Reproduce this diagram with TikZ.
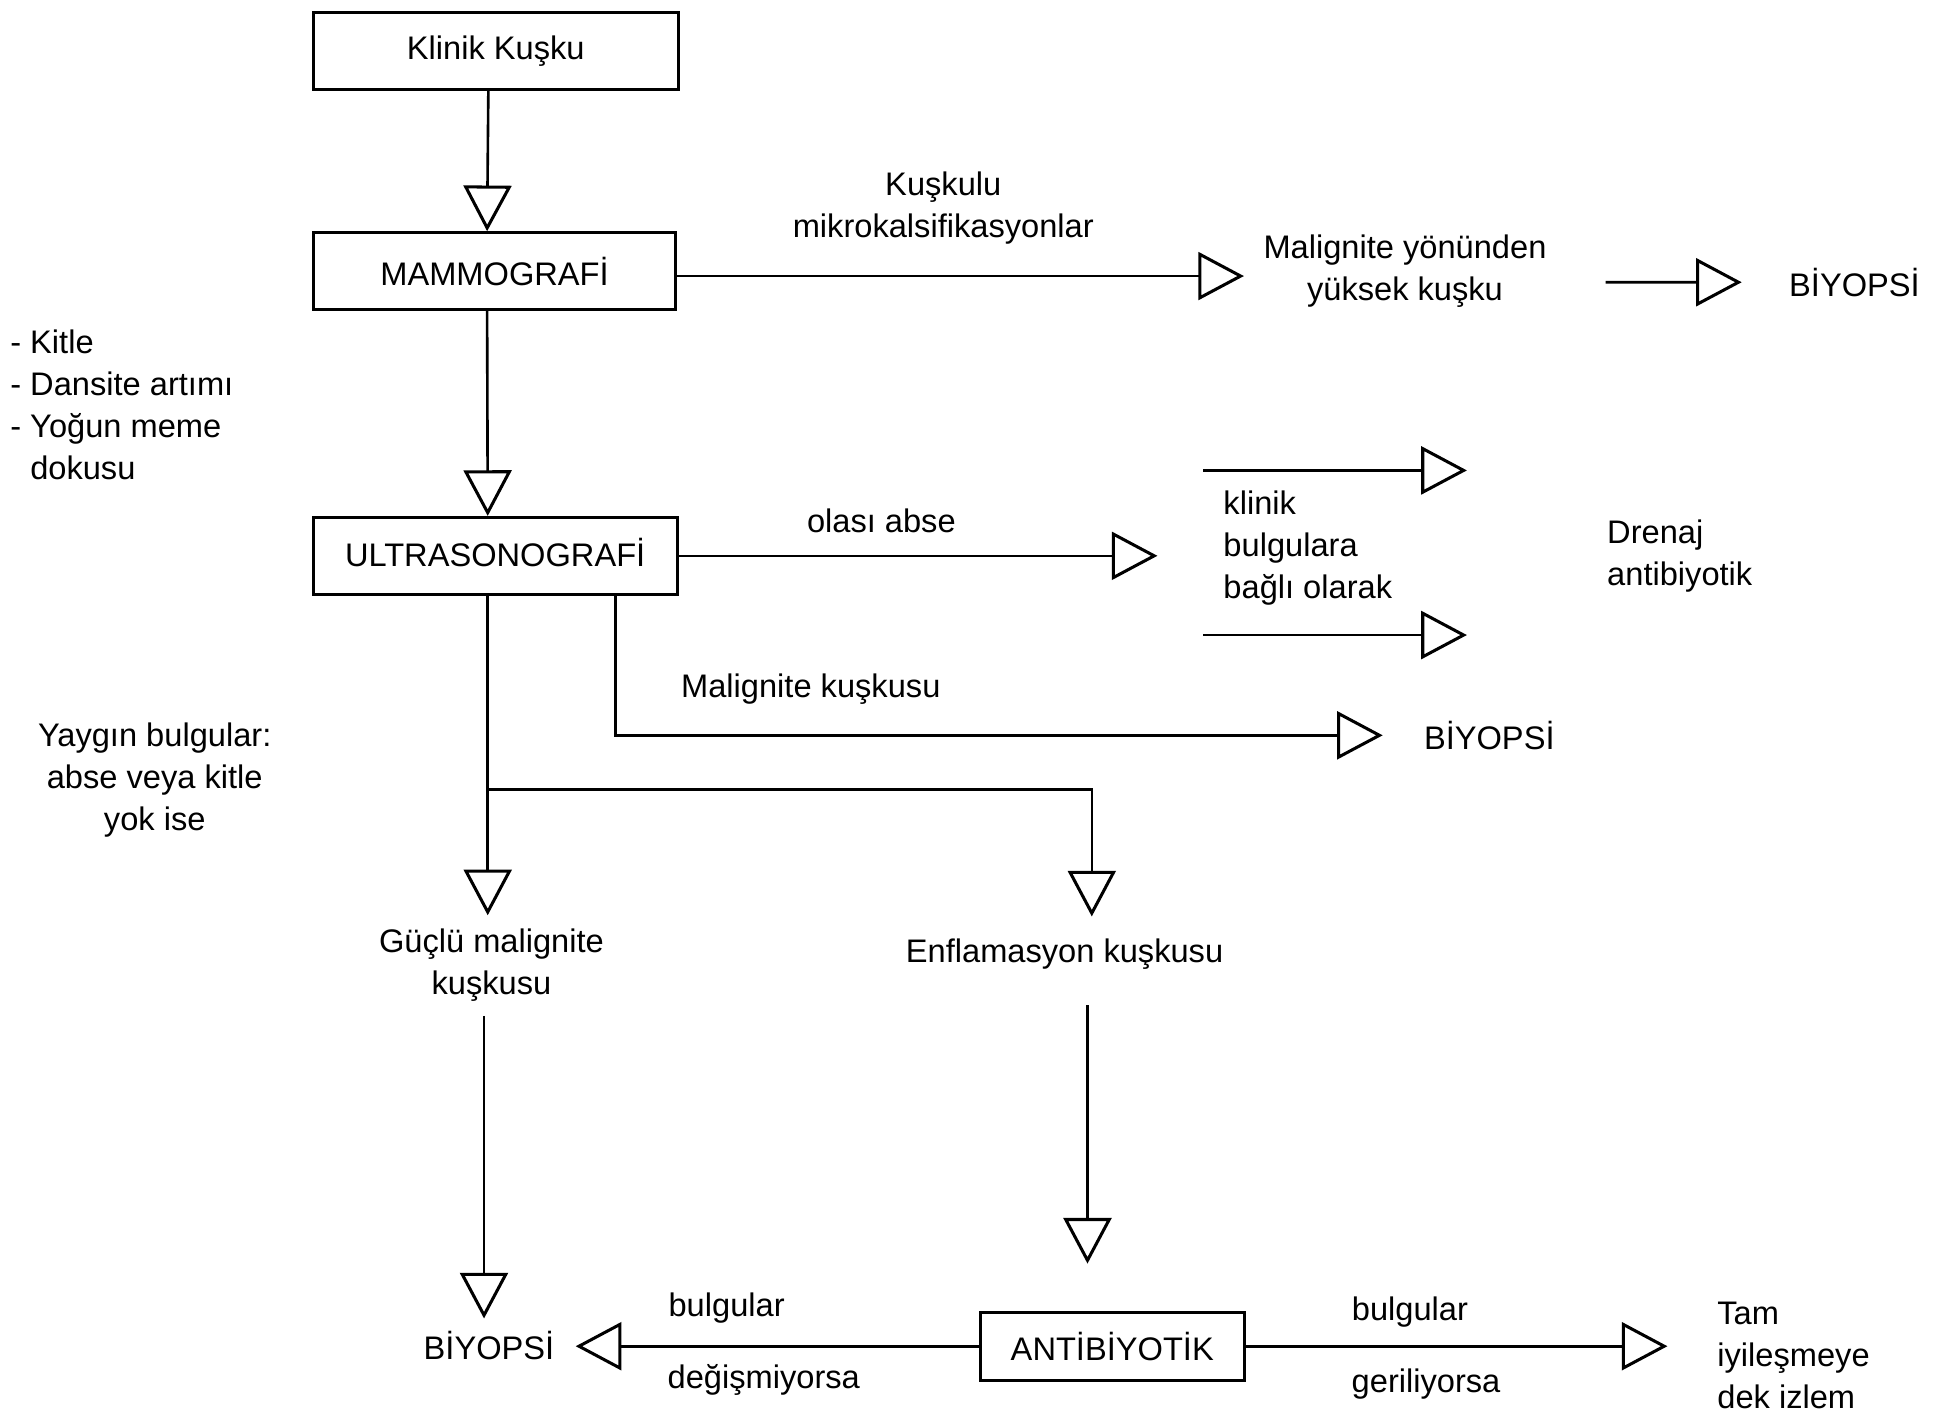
\documentclass[tikz,border=0pt]{standalone}
\usepackage{fontspec}
\setmainfont{Liberation Sans}
\usetikzlibrary{arrows.meta}
\begin{document}
\begin{tikzpicture}[x=0.02cm,y=-0.02cm,
  every node/.style={font=\fontsize{15}{19.3}\selectfont},
  box/.style={draw,line width=1.4pt,inner sep=0pt},
  txt/.style={inner sep=0pt},
  arr/.style={line width=1.2pt,-{Triangle[open,length=21pt,width=22pt,line width=1.4pt]}}]
\useasboundingbox (0,0) rectangle (1568,1144);

% boxes
\node[box,minimum width=5.9cm,minimum height=1.24cm] (klinik) at (400.5,41) {\raisebox{-0.12cm}{Klinik Kuşku}};
\node[box,minimum width=5.86cm,minimum height=1.24cm] (mammo) at (399.5,219) {MAMMOGRAFİ};
\node[box,minimum width=5.88cm,minimum height=1.24cm] (ultra) at (400,449) {\raisebox{0.1cm}{ULTRASONOGRAFİ}};
\node[box,minimum width=4.26cm,minimum height=1.1cm] (anti) at (898.5,1087.5) {ANTİBİYOTİK};

% texts
\node[txt,align=center] (kusk) at (762,168) {Kuşkulu\\mikrokalsifikasyonlar};
\node[txt,align=center] (malig) at (1135,219) {Malignite yönünden\\yüksek kuşku};
\node[txt,anchor=west] (biy1) at (1445,228) {BİYOPSİ};
\node[txt,align=left,anchor=west] (list) at (8,327) {- Kitle\\- Dansite artımı\\- Yoğun meme\\\hphantom{- }dokusu};
\node[txt,align=left,anchor=west] (bagli) at (988,443) {klinik\\bulgulara\\bağlı olarak};
\node[txt,align=left,anchor=west] (drenaj) at (1298,449) {Drenaj\\antibiyotik};
\node[txt] (olasi) at (712,421) {olası abse};
\node[txt] (mkus) at (655,557) {Malignite kuşkusu};
\node[txt,anchor=west] (biy2) at (1150,594) {BİYOPSİ};
\node[txt,align=center] (yaygin) at (125,630) {Yaygın bulgular:\\abse veya kitle\\yok ise};
\node[txt,align=center] (guclu) at (397,780) {Güçlü malignite\\kuşkusu};
\node[txt] (enf) at (860,771) {Enflamasyon kuşkusu};
\node[txt] (biy3) at (395,1087) {BİYOPSİ};
\node[txt] (bul1) at (587,1057) {bulgular};
\node[txt] (degis) at (617,1115) {değişmiyorsa};
\node[txt] (bul2) at (1139,1060) {bulgular};
\node[txt] (geri) at (1152,1118) {geriliyorsa};
\node[txt,align=left,anchor=west] (tam) at (1387,1095) {Tam\\iyileşmeye\\dek izlem};

% free coordinates
\coordinate (t1s) at (972,380);
\coordinate (t1e) at (1185,380);
\coordinate (t2s) at (972,513);
\coordinate (t2e) at (1185,513);
\coordinate (br) at (394,638);

% connectors
\draw[arr] ([xshift=-0.12cm]klinik.south) -- ([xshift=-0.12cm]mammo.north);
\draw[arr,shorten >=0.31cm] ([yshift=-0.08cm]mammo.east) -- ([yshift=-0.08cm]mammo.east -| malig.west);
\draw[arr,shorten <=0.95cm,shorten >=0.76cm] ([yshift=-0.18cm]malig.east) -- (biy1.west);
\draw[arr] ([xshift=-0.12cm]mammo.south) -- ([xshift=-0.12cm]ultra.north);
\draw[arr,shorten >=1.06cm] (ultra.east) -- (ultra.east -| bagli.west);
\draw[arr] (t1s) -- (t1e);
\draw[arr] (t2s) -- (t2e);
\draw[arr,shorten >=0.66cm] ([xshift=1.94cm]ultra.south) |- (biy2.west);
\draw[arr,shorten >=0.22cm] ([xshift=-0.12cm]ultra.south) -- ([xshift=-0.12cm]ultra.south |- guclu.north);
\draw[arr,shorten >=0.36cm] (br) -| ([xshift=0.44cm]enf.north);
\draw[arr,shorten <=0.22cm,shorten >=0.2cm] ([xshift=-0.12cm]guclu.south) -- ([xshift=-0.12cm]guclu.south |- biy3.north);
\draw[arr,shorten <=0.57cm,shorten >=0.76cm] ([xshift=-0.4cm]anti.north |- enf.south) -- ([xshift=-0.4cm]anti.north);
\draw[arr,shorten >=0.34cm] (anti.west) -- (anti.west -| biy3.east);
\draw[arr,shorten >=0.8cm] (anti.east) -- (anti.east -| tam.west);
\end{tikzpicture}
\end{document}
